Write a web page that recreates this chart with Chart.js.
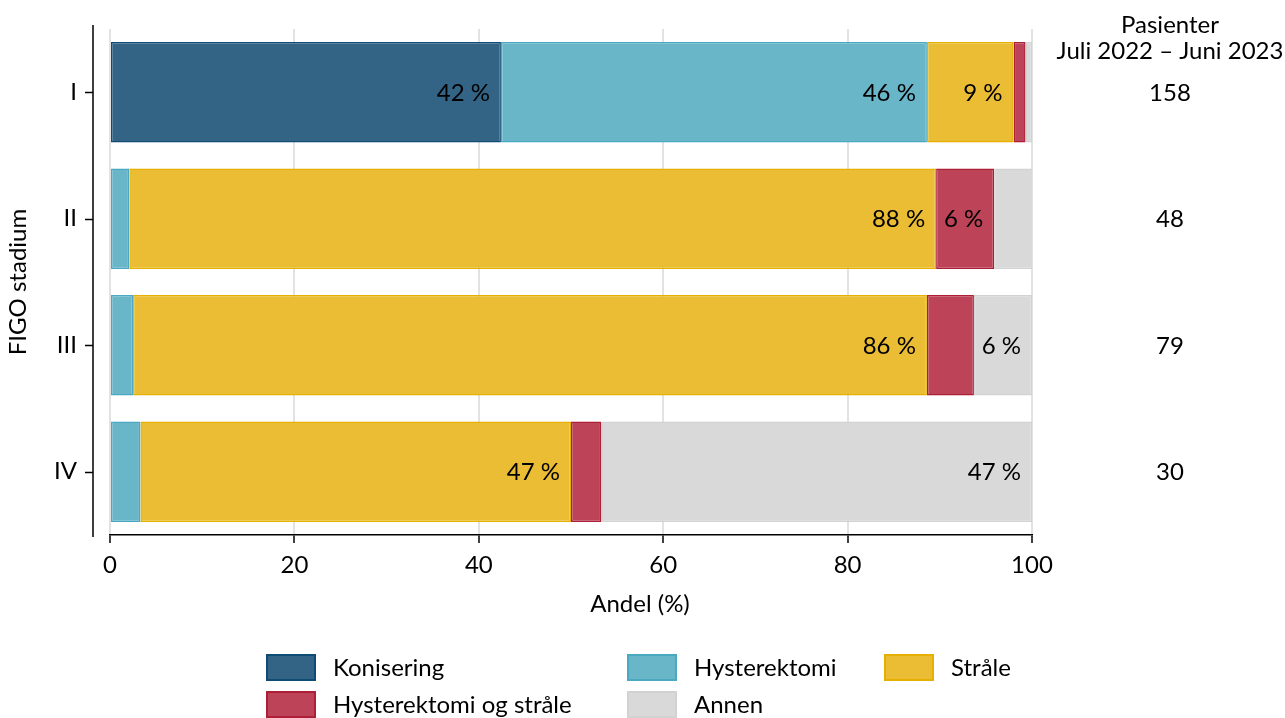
<!DOCTYPE html>
<html>
<head>
<meta charset="utf-8">
<script src="https://cdn.jsdelivr.net/npm/chart.js@4"></script>
<style>
html,body{margin:0;padding:0;background:#fff;}
#wrap{width:1285px;height:718px;position:relative;}
</style>
</head>
<body>
<div id="wrap"><canvas id="c"></canvas></div>
<script>
// ---- data ----
const categories = ['I', 'II', 'III', 'IV'];
const konisering = [42.4, 0, 0, 0];
const hysterektomi = [46.2, 2.1, 2.5, 3.3];
const straale = [9.4, 87.5, 86.1, 46.7];
const hystStraale = [1.3, 6.3, 5.1, 3.3];
const annen = [0.7, 4.2, 6.3, 46.7];
const patients = [158, 48, 79, 30];
const xTicks = [0, 20, 40, 60, 80, 100];
const seriesNames = ['Konisering', 'Hysterektomi', 'Stråle', 'Hysterektomi og stråle', 'Annen'];
const headerLines = ['Pasienter', 'Juli 2022 – Juni 2023'];
const xTitle = 'Andel (%)';
const yTitle = 'FIGO stadium';

const FONT = 'Lato, "Open Sans", sans-serif';
const FS = 24;

const fills = ['#336485', '#69b6c9', '#ebbd35', '#bd4458', '#d9d9d9'];
const borders = ['#0f4c75', '#4aa9c1', '#e6b000', '#ad1f36', '#d2d2d2'];
const seriesData = [konisering, hysterektomi, straale, hystStraale, annen];

const datasets = seriesData.map((d, i) => ({
  label: seriesNames[i],
  data: d,
  backgroundColor: fills[i],
  borderColor: borders[i],
  borderWidth: 1.5,
  borderSkipped: false,
  categoryPercentage: 1,
  barPercentage: 100 / 126
}));

const decorPlugin = {
  id: 'decor',
  afterDatasetsDraw(chart) {
    const ctx = chart.ctx;
    ctx.save();
    ctx.font = FS + 'px ' + FONT;
    ctx.fillStyle = '#000';
    ctx.textAlign = 'right';
    ctx.textBaseline = 'middle';
    chart.data.datasets.forEach((ds, di) => {
      const meta = chart.getDatasetMeta(di);
      meta.data.forEach((bar, i) => {
        const v = ds.data[i];
        if (v >= 5.5) {
          ctx.fillText(Math.round(v) + ' %', bar.x - 11, bar.y + 1);
        }
      });
    });
    ctx.restore();
  },
  afterDraw(chart) {
    const ctx = chart.ctx;
    const ys = chart.scales.y;
    ctx.save();
    // y axis line + ticks (offset from plot)
    ctx.strokeStyle = '#000';
    ctx.lineWidth = 1.5;
    ctx.beginPath();
    ctx.moveTo(93, 25);
    ctx.lineTo(93, 537);
    categories.forEach((c, i) => {
      const y = Math.round(ys.getPixelForValue(i)) + 0.5;
      ctx.moveTo(85, y);
      ctx.lineTo(93, y);
    });
    ctx.stroke();

    ctx.font = FS + 'px ' + FONT;
    ctx.fillStyle = '#000';
    ctx.textAlign = 'center';
    ctx.textBaseline = 'middle';
    // x title
    ctx.fillText(xTitle, 640, 604);
    // right column
    ctx.fillText(headerLines[0], 1170, 25);
    ctx.fillText(headerLines[1], 1170, 51);
    patients.forEach((p, i) => {
      ctx.fillText(String(p), 1170, ys.getPixelForValue(i) + 1);
    });

    // legend
    const cols = [266, 627, 884];
    const rows = [667.5, 704.5];
    chart.data.datasets.forEach((ds, i) => {
      const cx = cols[i % 3];
      const cy = rows[Math.floor(i / 3)];
      ctx.fillStyle = ds.backgroundColor;
      ctx.fillRect(cx, cy - 13.5, 50, 27);
      ctx.strokeStyle = ds.borderColor;
      ctx.lineWidth = 2;
      ctx.strokeRect(cx + 1, cy - 12.5, 48, 25);
      ctx.fillStyle = '#000';
      ctx.textAlign = 'left';
      ctx.fillText(ds.label, cx + 67, cy + 1);
    });
    ctx.restore();
  }
};

new Chart(document.getElementById('c'), {
  type: 'bar',
  data: { labels: categories, datasets },
  options: {
    indexAxis: 'y',
    responsive: true,
    maintainAspectRatio: false,
    animation: false,
    devicePixelRatio: 1,
    layout: { padding: { top: 29, right: 253, bottom: 98, left: 0 } },
    plugins: { legend: { display: false }, tooltip: { enabled: false } },
    scales: {
      x: {
        type: 'linear',
        stacked: true,
        min: 0,
        max: 100,
        afterBuildTicks(scale) { scale.ticks = xTicks.map(v => ({ value: v })); },
        afterFit(scale) { scale.height = 85; },
        ticks: { font: { family: FONT, size: FS }, color: '#000', padding: 8, maxRotation: 0 },
        grid: { color: '#e2e2e2', lineWidth: 2, tickColor: '#000', tickLength: 8, tickWidth: 1.5 },
        border: { display: true, color: '#000', width: 1.5 },
        title: { display: false }
      },
      y: {
        type: 'category',
        stacked: true,
        offset: true,
        afterFit(scale) { scale.width = 110; scale.paddingTop = 0; scale.paddingBottom = 0; },
        ticks: { font: { family: FONT, size: FS }, color: '#000', padding: 33 },
        grid: { display: false, drawTicks: false },
        border: { display: false },
        title: { display: true, text: yTitle, font: { family: FONT, size: FS }, color: '#000', padding: { top: 4, bottom: 0 } }
      }
    }
  },
  plugins: [decorPlugin]
});
</script>
</body>
</html>
